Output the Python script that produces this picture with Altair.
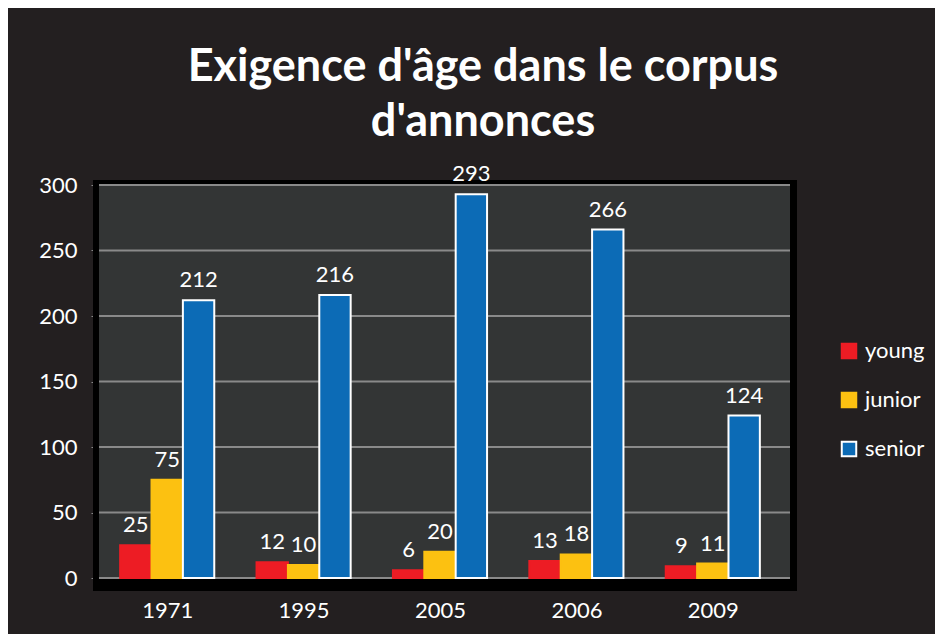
import altair as alt
import pandas as pd

years = ["1971", "1995", "2005", "2006", "2009"]
series = ["young", "junior", "senior"]
young = [25, 12, 6, 13, 9]
junior = [75, 10, 20, 18, 11]
senior = [212, 216, 293, 266, 124]
y_ticks = [0, 50, 100, 150, 200, 250, 300]
colors = ["#ed1c24", "#fcc111", "#0c6bb6"]
strokes = ["#ed1c24", "#fcc111", "#ffffff"]

rows = []
for i, yr in enumerate(years):
    for s, vals in zip(series, [young, junior, senior]):
        rows.append({"year": yr, "series": s, "value": vals[i]})
df = pd.DataFrame(rows)
grid_df = pd.DataFrame({"v": y_ticks})

W, H = 682, 393
FONT = "Lato"

yscale = alt.Scale(domain=[0, 300], nice=False)

black_box = alt.Chart(grid_df).mark_rect(color="#000000").encode(
    x=alt.value(-6), x2=alt.value(698), y=alt.value(-5), y2=alt.value(406)
)
plot_bg = alt.Chart(grid_df).mark_rect(color="#333535").encode(
    x=alt.value(0), x2=alt.value(691), y=alt.value(0), y2=alt.value(393)
)
grid = alt.Chart(grid_df).mark_rule(color="#8a8a8a", strokeWidth=2).encode(
    y=alt.Y("v:Q", scale=yscale),
    x=alt.value(0), x2=alt.value(691),
)

xenc = alt.X("year:N", sort=years, scale=alt.Scale(paddingInner=0.31, paddingOuter=0.155),
             axis=alt.Axis(title=None, labelAngle=0, labelColor="white", labelFontSize=22,
                           labelFont=FONT, labelPadding=14, tickColor="#8a8a8a", tickSize=8,
                           domainColor="#8a8a8a", domainWidth=2, tickWidth=1.5,
                           bandPosition=0, tickBand="extent"))
xoff = alt.XOffset("series:N", sort=series, scale=alt.Scale(paddingInner=0, paddingOuter=0))

bars = alt.Chart(df).mark_bar(strokeWidth=2).encode(
    x=xenc,
    xOffset=xoff,
    y=alt.Y("value:Q", scale=yscale,
            axis=alt.Axis(title=None, values=y_ticks, labelColor="white", labelFontSize=22,
                          labelFont=FONT, labelPadding=14, tickColor="#8a8a8a", tickSize=8,
                          domainColor="#8a8a8a", domainWidth=2, grid=False)),
    color=alt.Color("series:N", sort=series,
                    scale=alt.Scale(domain=series, range=colors), title=None),
    stroke=alt.Stroke("series:N", sort=series,
                      scale=alt.Scale(domain=series, range=strokes), title=None),
)

labels = alt.Chart(df).mark_text(color="white", fontSize=22, font=FONT,
                                 baseline="bottom", dy=-8).encode(
    x=alt.X("year:N", sort=years),
    xOffset=alt.XOffset("series:N", sort=series),
    y=alt.Y("value:Q", scale=yscale),
    text=alt.Text("value:Q"),
)

chart = alt.layer(black_box, plot_bg, grid, bars, labels).properties(
    width=W, height=H,
    padding={"left": 91, "top": 177, "right": 154, "bottom": 56},
    autosize=alt.AutoSizeParams(type="none"),
    background="#231f20",
    title=alt.TitleParams(
        ["Exigence d'âge dans le corpus", "d'annonces"],
        color="white", font=FONT, fontSize=45, fontWeight="bold",
        anchor="middle", frame="group", dx=43, offset=18, lineHeight=55,
    ),
).configure_view(stroke=None).configure_legend(
    orient="none", legendX=739, legendY=155, labelColor="white",
    labelFontSize=22, labelFont=FONT, symbolType="square", symbolSize=210,
    symbolStrokeWidth=2, rowPadding=25, labelOffset=5,
)

chart.save("out.html", embed_options={"renderer": "svg", "actions": False})
